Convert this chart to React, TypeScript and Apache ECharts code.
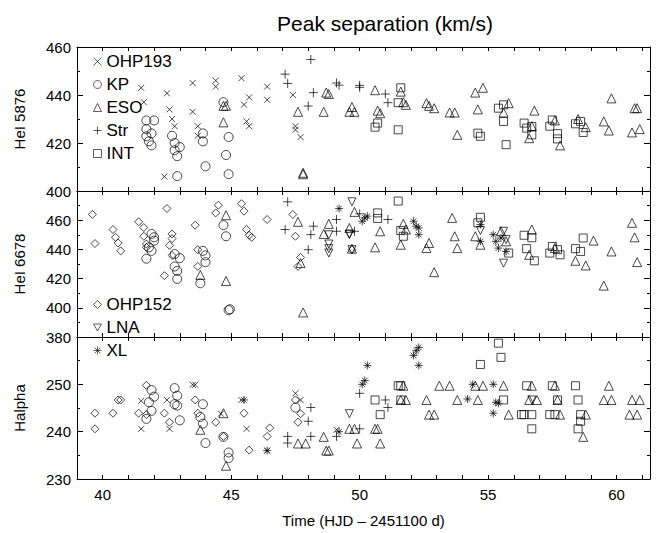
import { useEffect, useRef } from 'react';
import * as echarts from 'echarts';

// [time, km/s] per instrument and per line
const ohp193He5876 = [[41.5,443],[41.6,437],[42.5,440.7],[42.6,434],[42.7,430],[42.8,427],[42.4,406],[43.5,445],[43.5,433],[43.7,427],[43.7,423],[44.4,446],[44.4,443.5],[45.4,447],[45.5,436],[45.7,439],[45.6,429],[45.7,427],[46.4,443.5],[46.4,438],[47.4,440],[47.5,427],[47.5,425.5],[47.7,422.5]];
const kpHe5876 = [[41.7,429.4],[42.0,429.4],[41.7,425.8],[41.7,422.8],[41.8,420.7],[41.9,419],[41.9,424],[42.7,423],[42.8,420],[42.8,417],[42.9,414.5],[43.0,418.3],[42.9,406.2],[43.9,424],[43.9,420.7],[44.0,410.3],[44.7,437],[44.8,415],[44.9,407],[44.9,422.5]];
const esoHe5876 = [[44.7,435.5],[44.8,435.5],[44.7,428.6],[47.6,433],[47.8,407.6],[47.8,407],[48.6,433],[48.7,441],[48.8,440.4],[49.7,435],[49.8,433],[49.6,433],[50.6,442],[50.7,433.5],[50.8,432.4],[51.6,441.4],[51.7,437],[51.8,435.9],[52.6,436.6],[52.7,435.5],[52.9,434.5],[53.5,432.7],[53.7,432.7],[53.8,423.4],[54.5,441],[54.8,443],[54.6,434],[55.6,432.7],[55.8,436.6],[56.8,433.5],[56.7,427],[56.6,422],[57.6,429.4],[57.8,419],[58.5,430],[58.8,426.6],[59.5,429],[59.7,425.2],[59.8,438.6],[60.6,424.4],[60.9,425.8],[60.7,434.5],[60.8,434.5]];
const strHe5876 = [[47.1,448.7],[47.2,444.8],[48.0,435.4],[48.1,454.8],[48.2,441],[49.1,445],[49.2,444.1],[50.0,444],[50.0,443.2],[51.0,440.4],[51.1,436.8]];
const intHe5876 = [[51.6,443],[51.5,436.8],[50.7,428.3],[50.6,426.6],[51.5,425.5],[54.6,424.1],[54.7,422.8],[55.4,434.5],[55.6,435.9],[55.6,429],[55.7,419.3],[56.4,428.3],[56.5,426.2],[56.7,426.9],[56.7,423.4],[57.5,429.6],[57.4,427],[57.7,423.9],[57.7,421.7],[58.4,428],[58.6,429],[58.7,424.4]];

const ohp152He6678 = [[39.6,464],[39.7,444],[40.4,453.6],[40.5,448.3],[40.6,444.4],[40.7,439],[41.4,458.9],[41.6,455],[41.6,449],[41.7,443.7],[41.7,441.4],[42.5,468],[42.4,422],[42.6,442.8],[42.7,447.4],[42.7,450.6],[42.7,435.9],[43.6,456.6],[43.7,439.8],[43.7,428.3],[44.5,470.3],[44.4,465],[45.4,471.3],[45.5,466.2],[45.6,453.6],[45.7,449.7],[45.8,448.3],[46.4,460.5],[47.4,463.9],[47.5,449],[47.6,428.3],[47.7,434.5],[49.7,439.8]];
const kpHe6678 = [[41.7,433.6],[41.8,441.4],[41.9,450.6],[42.0,448.3],[42.0,446],[41.9,439],[42.8,436.8],[42.8,428.3],[42.9,425.3],[42.9,419.8],[43.0,434],[43.8,416.8],[43.9,439],[44.0,435.9],[44.0,431.3],[44.7,456.6],[44.8,449],[44.9,398.4],[44.95,399]];
const esoHe6678 = [[44.8,463.4],[44.8,418.4],[43.8,422.5],[47.6,458.9],[47.7,430.6],[47.8,396.8],[48.6,450.6],[48.8,457.5],[49.8,465.7],[49.7,440.5],[49.6,454.7],[50.6,441.4],[50.8,452.4],[51.6,443.2],[51.7,457.5],[51.8,453.6],[52.6,440.9],[52.7,444.4],[52.9,424.4],[53.6,461.6],[53.7,449],[53.8,440.9],[54.5,449],[54.7,443.2],[55.5,452.4],[55.7,445.5],[56.7,453.6],[56.6,436.3],[57.6,440.9],[58.4,432.2],[58.8,429],[59.1,446],[59.5,415.2],[59.8,438.6],[60.6,458.2],[60.7,448.3],[60.8,431.3]];
const strHe6678 = [[47.2,472.6],[47.1,453.6],[48.0,439.8],[48.1,450.1],[48.2,455.9],[49.1,460.5],[49.1,452.4],[49.8,452.4],[50.0,464.4],[51.1,460.5]];
const intHe6678 = [[51.5,473.1],[50.7,465],[50.7,461.2],[51.6,452.9],[51.7,449],[54.7,462],[54.6,458.2],[55.8,437.5],[56.4,449.7],[56.7,448],[56.5,440.5],[56.8,432.2],[57.5,442],[57.4,437.5],[57.7,439.8],[57.8,436.3],[58.7,447.8],[58.4,440.5],[58.6,438.6]];
const lnaHe6678 = [[48.8,443.7],[48.8,440.5],[48.8,437.5],[48.8,450],[49.6,450.6],[49.7,472.6],[49.6,450.1],[49.7,439.8],[54.7,452.9],[55.6,430.6],[55.6,452.4],[55.7,446.7]];
const xlHe6678 = [[49.2,468],[50.1,459.3],[50.2,461.6],[50.3,462.8],[52.1,459.3],[52.2,455.9],[52.3,450.1],[52.3,454.7],[54.7,457],[54.7,445.5],[55.2,450.1],[55.3,445.5],[55.4,440.9],[55.5,447.8],[55.7,438.6]];

const ohp152Halpha = [[39.7,243.9],[39.7,240.6],[40.4,243.9],[40.6,246.7],[40.7,246.7],[41.4,243.9],[41.7,249.8],[41.7,243.6],[42.4,243.9],[42.6,242],[43.6,246.7],[43.7,243.9],[44.4,242],[44.7,239],[45.5,243.9],[45.7,236.1],[46.4,239],[46.5,240.8],[47.5,246.7],[47.6,242],[47.7,243.8]];
const kpHalpha = [[41.8,246.2],[41.9,248.8],[42.0,247.4],[41.9,244.4],[41.7,242.7],[42.8,249.2],[42.9,247.6],[42.8,245.8],[42.9,245.5],[43.0,242.4],[43.9,245.8],[43.8,243.1],[43.9,241.7],[44.0,237.6],[44.7,238.9],[44.9,235.6],[44.9,234.4],[47.5,245.1]];
const ohp193Halpha = [[41.5,246.5],[41.5,240.6],[42.5,246.7],[42.6,240.6],[43.5,249.9],[43.6,249.9],[44.6,243.8],[45.4,246.7],[45.6,240.6],[46.4,236],[47.5,248.1],[47.7,246.7],[49.1,240.4]];
const esoHalpha = [[43.8,240.4],[44.7,243.9],[44.8,232.8],[47.6,237.5],[47.9,237.5],[48.6,238.9],[48.7,236],[48.8,236],[49.6,240.6],[49.8,240.6],[49.9,237.5],[50.6,240.6],[50.7,240.6],[50.8,237.5],[51.6,246.7],[51.8,246.7],[51.7,249.7],[52.6,246.7],[52.7,243.6],[52.9,243.6],[53.1,249.7],[53.5,249.7],[53.8,246.7],[54.5,249.7],[54.8,249.7],[54.6,246.7],[55.6,249.7],[55.8,243.6],[56.7,249.7],[56.6,246.7],[56.9,246.7],[57.6,249.7],[57.7,246.7],[57.8,243.6],[58.8,243.6],[58.7,238.9],[59.7,249.7],[59.5,246.7],[59.8,246.7],[60.6,246.7],[60.9,246.7],[60.5,243.6],[60.8,243.6]];
const strHalpha = [[47.2,239],[47.2,237.6],[48.1,245.1],[48.0,242.2],[48.1,239],[49.1,239],[50.0,248.1],[50.0,240.6],[51.0,246.7],[51.1,245.1]];
const lnaHalpha = [[49.6,243.8],[56.7,246.7]];
const xlHalpha = [[45.5,246.7],[46.4,236],[49.2,240],[50.3,254],[50.2,250.8],[50.1,250],[52.1,256.1],[52.2,257.1],[52.3,257.8],[52.3,254],[54.2,246.9],[54.4,250],[55.2,250],[55.3,246.2],[55.4,246],[55.2,243.9]];
const intHalpha = [[51.5,249.7],[51.6,249.7],[50.6,246.7],[50.8,243.6],[51.6,246.7],[54.7,254.2],[55.4,258.7],[55.5,255.7],[55.6,246.7],[56.5,249.7],[56.3,243.6],[56.4,243.6],[56.7,243.6],[56.7,240.6],[57.5,249.7],[57.7,246.7],[57.4,243.6],[57.6,243.6],[58.4,249.7],[58.5,246.7],[58.6,243.6],[58.6,242.2],[58.5,240.6]];

const FONT = 'Liberation Sans';
const symbols: Record<string, string> = {
    OHP193: 'path://M0,0L10,10M10,0L0,10',
    KP: 'circle',
    ESO: 'triangle',
    Str: 'path://M5,0L5,10M0,5L10,5',
    INT: 'rect',
    OHP152: 'diamond',
    LNA: 'path://M0,0L10,0L5,8.7Z',
    XL: 'path://M5,0L5,10M0,5L10,5M1.5,1.5L8.5,8.5M8.5,1.5L1.5,8.5',
};
const sizes: Record<string, number> = { OHP193: 6, KP: 9, ESO: 9, Str: 9, INT: 8, OHP152: 8, LNA: 8, XL: 8 };

export default function App() {
    const chartRef = useRef<HTMLDivElement>(null);

    useEffect(() => {
        if (!chartRef.current) return;
        const chart = echarts.init(chartRef.current, null, { renderer: 'svg' });

        const grids = [
            { left: 77, right: 16, top: 47, height: 144 },
            { left: 77, right: 16, top: 191, height: 146 },
            { left: 77, right: 16, top: 337, height: 142 },
        ];
        const yRanges = [
            { min: 400, max: 460, interval: 20, minor: 2, name: 'HeI 5876', showMax: true },
            { min: 380, max: 480, interval: 20, minor: 2, name: 'HeI 6678', showMax: false },
            { min: 230, max: 260, interval: 10, minor: 2, name: 'Halpha', showMax: false },
        ];
        const lineStyle = { color: '#000', width: 1 };
        const xAxis: any[] = [];
        const yAxis: any[] = [];
        grids.forEach((_, i) => {
            const last = i === 2;
            xAxis.push({
                gridIndex: i, type: 'value', min: 39, max: 61.3, interval: 1, position: 'bottom',
                axisLine: { lineStyle }, splitLine: { show: false },
                axisTick: { inside: true, length: 4, lineStyle },
                axisLabel: {
                    show: last, color: '#000', fontSize: 15, fontFamily: FONT, margin: 8,
                    formatter: (v: number) => (v % 5 === 0 ? String(v) : ''),
                },
                name: last ? 'Time (HJD – 2451100 d)' : '', nameLocation: 'middle', nameGap: 34,
                nameTextStyle: { color: '#000', fontSize: 15, fontFamily: FONT },
            });
            xAxis.push({
                gridIndex: i, type: 'value', min: 39, max: 61.3, interval: 1, position: 'top',
                axisLine: { lineStyle }, splitLine: { show: false },
                axisTick: { inside: true, length: 4, lineStyle }, axisLabel: { show: false },
            });
            const r = yRanges[i];
            yAxis.push({
                gridIndex: i, type: 'value', min: r.min, max: r.max, interval: r.interval, position: 'left',
                axisLine: { lineStyle }, splitLine: { show: false },
                axisTick: { inside: true, length: 6, lineStyle },
                minorTick: { show: true, splitNumber: r.minor, length: 3, lineStyle },
                axisLabel: { color: '#000', fontSize: 15, fontFamily: FONT, showMaxLabel: r.showMax, margin: 6 },
                name: r.name, nameLocation: 'middle', nameGap: 50,
                nameTextStyle: { color: '#000', fontSize: 15, fontFamily: FONT },
            });
            yAxis.push({
                gridIndex: i, type: 'value', min: r.min, max: r.max, interval: r.interval, position: 'right',
                axisLine: { lineStyle }, splitLine: { show: false },
                axisTick: { inside: true, length: 6, lineStyle },
                minorTick: { show: true, splitNumber: r.minor, length: 3, lineStyle },
                axisLabel: { show: false },
            });
        });

        const mk = (name: string, panel: number, data: number[][]) => ({
            name, type: 'scatter', xAxisIndex: panel * 2, yAxisIndex: panel * 2, data,
            symbol: symbols[name], symbolSize: sizes[name],
            itemStyle: { color: 'none', borderColor: '#000', borderWidth: 0.9 },
        });
        const series = [
            mk('OHP193', 0, ohp193He5876), mk('KP', 0, kpHe5876), mk('ESO', 0, esoHe5876),
            mk('Str', 0, strHe5876), mk('INT', 0, intHe5876),
            mk('OHP152', 1, ohp152He6678), mk('KP', 1, kpHe6678), mk('ESO', 1, esoHe6678),
            mk('Str', 1, strHe6678), mk('INT', 1, intHe6678), mk('LNA', 1, lnaHe6678), mk('XL', 1, xlHe6678),
            mk('OHP152', 2, ohp152Halpha), mk('KP', 2, kpHalpha), mk('OHP193', 2, ohp193Halpha),
            mk('ESO', 2, esoHalpha), mk('Str', 2, strHalpha), mk('LNA', 2, lnaHalpha),
            mk('XL', 2, xlHalpha), mk('INT', 2, intHalpha),
        ];
        const legendText = { color: '#000', fontSize: 17, fontFamily: FONT };
        const legendBase = {
            orient: 'vertical', left: 86, itemWidth: 8, itemHeight: 8, itemGap: 6,
            textStyle: legendText, selectedMode: false,
            itemStyle: { borderWidth: 0.8 },
        };

        chart.setOption({
            animation: false,
            backgroundColor: '#fff',
            title: {
                text: 'Peak separation (km/s)', left: 380, top: 8, textAlign: 'center',
                textStyle: { color: '#000', fontSize: 21, fontWeight: 'normal', fontFamily: FONT },
            },
            grid: grids,
            xAxis, yAxis,
            legend: [
                { ...legendBase, data: ['OHP193', 'KP', 'ESO', 'Str', 'INT'], top: 48 },
                { ...legendBase, data: ['OHP152', 'LNA', 'XL'], top: 291 },
            ],
            series,
        });

        return () => chart.dispose();
    }, []);

    return <div ref={chartRef} style={{ position: 'absolute', left: 0, top: 0, width: 666, height: 533 }} />;
}
